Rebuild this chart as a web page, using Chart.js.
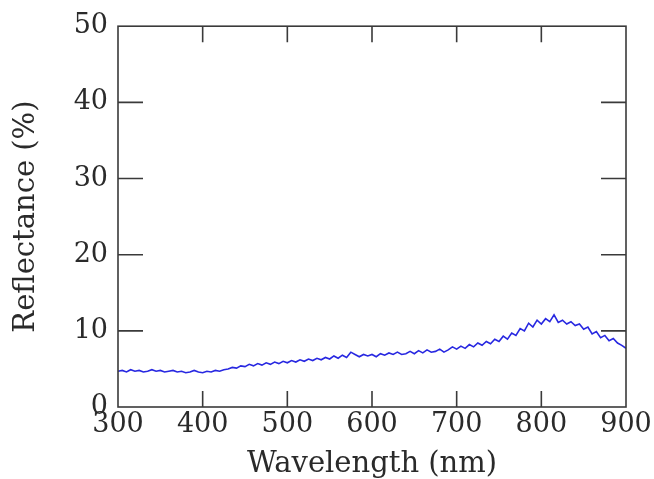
<!DOCTYPE html>
<html>
<head>
<meta charset="utf-8">
<script src="https://cdn.jsdelivr.net/npm/chart.js@4"></script>
<style>
  html, body { margin: 0; padding: 0; background: #fff; }
  #wrap { width: 654px; height: 479px; }
</style>
</head>
<body>
<div id="wrap"><canvas id="myChart"></canvas></div>
<script>
// wavelengths 300..900 nm, every 5 nm
var wavelengths = [];
for (var w = 300; w <= 900; w += 5) wavelengths.push(w);

var reflectance = [
    4.7, 4.8, 4.6, 4.9, 4.7, 4.8, 4.6, 4.7, 4.9, 4.7,
    4.8, 4.6, 4.7, 4.8, 4.6, 4.7, 4.5, 4.6, 4.8, 4.6,
    4.5, 4.7, 4.6, 4.8, 4.7, 4.9, 5.0, 5.2, 5.1, 5.4,
    5.3, 5.6, 5.4, 5.7, 5.5, 5.8, 5.6, 5.9, 5.7, 6.0,
    5.8, 6.1, 5.9, 6.2, 6.0, 6.3, 6.1, 6.4, 6.2, 6.5,
    6.3, 6.7, 6.4, 6.8, 6.5, 7.2, 6.9, 6.6, 6.9, 6.7,
    6.9, 6.6, 7.0, 6.8, 7.1, 6.9, 7.2, 6.9, 7.0, 7.3,
    7.0, 7.4, 7.1, 7.5, 7.2, 7.3, 7.6, 7.2, 7.5, 7.9,
    7.6, 8.0, 7.7, 8.2, 7.9, 8.4, 8.1, 8.6, 8.3, 8.9,
    8.6, 9.3, 8.9, 9.7, 9.4, 10.3, 10.0, 11.0, 10.5, 11.4,
    10.9, 11.6, 11.2, 12.1, 11.1, 11.4, 10.9, 11.2, 10.7, 10.9,
    10.2, 10.5, 9.6, 9.9, 9.1, 9.4, 8.7, 9.0, 8.4, 8.1,
    7.7
];

var xTicks = [300, 400, 500, 600, 700, 800, 900];
var yTicks = [0, 10, 20, 30, 40, 50];

var points = wavelengths.map(function (x, i) { return { x: x, y: reflectance[i] }; });

// frame with inward tick marks, like the original plot
var framePlugin = {
    id: 'frame',
    afterDraw: function (chart) {
        var ctx = chart.ctx;
        var a = chart.chartArea;
        var xs = chart.scales.x, ys = chart.scales.y;
        ctx.save();
        ctx.strokeStyle = '#3a3a3a';
        ctx.lineWidth = 1.6;
        ctx.strokeRect(a.left, a.top, a.right - a.left, a.bottom - a.top);
        ctx.beginPath();
        xTicks.slice(1, -1).forEach(function (v) {
            var px = xs.getPixelForValue(v);
            ctx.moveTo(px, a.bottom); ctx.lineTo(px, a.bottom - 16);
            ctx.moveTo(px, a.top); ctx.lineTo(px, a.top + 16);
        });
        yTicks.slice(1, -1).forEach(function (v) {
            var py = ys.getPixelForValue(v);
            ctx.moveTo(a.left, py); ctx.lineTo(a.left + 25, py);
            ctx.moveTo(a.right, py); ctx.lineTo(a.right - 25, py);
        });
        ctx.stroke();
        ctx.restore();
    }
};

var font = 'DejaVu Serif';
var ctx = document.getElementById('myChart').getContext('2d');
var myChart = new Chart(ctx, {
    type: 'line',
    data: {
        datasets: [{
            data: points,
            borderColor: 'rgb(40, 40, 225)',
            borderWidth: 1.6,
            pointRadius: 0,
            tension: 0
        }]
    },
    options: {
        responsive: true,
        maintainAspectRatio: false,
        animation: false,
        layout: { padding: { top: 25, right: 28, left: 0, bottom: 0 } },
        plugins: { legend: { display: false }, tooltip: { enabled: false } },
        scales: {
            x: {
                type: 'linear',
                min: 300, max: 900,
                grid: { display: false, drawTicks: false },
                border: { display: false },
                afterFit: function (s) { s.height = 72; },
                afterBuildTicks: function (s) { s.ticks = xTicks.map(function (v) { return { value: v }; }); },
                ticks: { color: '#2a2a2a', padding: 2, font: { family: font, size: 27 }, maxRotation: 0 },
                title: { display: true, text: 'Wavelength (nm)', color: '#2a2a2a', font: { family: font, size: 29, lineHeight: 1 }, padding: { top: 0, bottom: 0 } }
            },
            y: {
                min: 0, max: 50,
                grid: { display: false, drawTicks: false },
                border: { display: false },
                afterFit: function (s) { s.width = 118; },
                afterBuildTicks: function (s) { s.ticks = yTicks.map(function (v) { return { value: v }; }); },
                ticks: { color: '#2a2a2a', padding: 10, font: { family: font, size: 27 } },
                title: { display: true, text: 'Reflectance (%)', color: '#2a2a2a', font: { family: font, size: 29, lineHeight: 1 }, padding: { top: 12, bottom: 0 } }
            }
        }
    },
    plugins: [framePlugin]
});
</script>
</body>
</html>
